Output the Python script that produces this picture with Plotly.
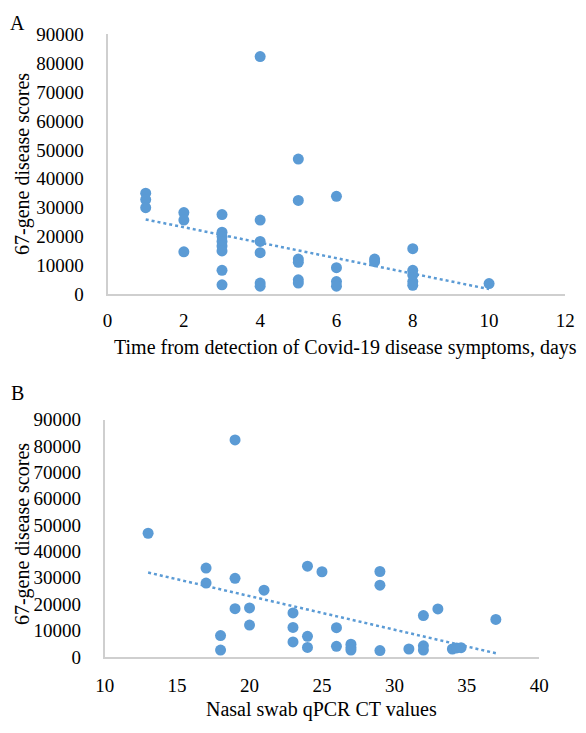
import plotly.graph_objects as go

# Panel A: days from symptom detection vs 67-gene score
days_a = [1, 1, 1, 2, 2, 2, 3, 3, 3, 3, 3, 3, 3, 3,
          4, 4, 4, 4, 4, 4, 5, 5, 5, 5, 5, 5, 6, 6, 6, 6,
          7, 7, 8, 8, 8, 8, 8, 10]
score_a = [35000, 32800, 30000, 28300, 25700, 14700,
           27600, 21500, 20000, 18300, 16700, 15000, 8300, 3300,
           82300, 25700, 18300, 14400, 3900, 2800,
           46800, 32500, 12200, 11100, 5000, 3900,
           33900, 9200, 4400, 2800,
           12200, 11300,
           15800, 8300, 6700, 4400, 3100,
           3700]
trend_a_x = [1, 10]
trend_a_y = [25900, 1800]

# Panel B: nasal swab qPCR CT vs 67-gene score
ct_b = [13, 17, 17, 18, 18, 19, 19, 19, 20, 20, 21, 23, 23, 23,
        24, 24, 24, 25, 26, 26, 27, 27, 27, 29, 29, 29, 31,
        32, 32, 32, 33, 34, 34.3, 34.6, 37]
score_b = [46900, 33700, 28000, 8100, 2600, 82300, 29800, 18300,
           18600, 12100, 25300, 16700, 11200, 5700,
           34400, 7800, 3600, 32300, 11100, 4000,
           4800, 3600, 2600, 32400, 27200, 2400, 3000,
           15700, 4200, 2600, 18200, 3000, 3400, 3500, 14200]
trend_b_x = [13, 37]
trend_b_y = [32000, 1400]

x_ticks_a = [0, 2, 4, 6, 8, 10, 12]
x_ticks_b = [10, 15, 20, 25, 30, 35, 40]
y_ticks = [0, 10000, 20000, 30000, 40000, 50000, 60000, 70000, 80000, 90000]
y_tick_text = [str(v) for v in y_ticks]

BLUE = "#5b9bd5"
FONT = "Liberation Serif"
W, H = 586, 733

fig = go.Figure()
fig.add_trace(go.Scatter(x=days_a, y=score_a, mode="markers",
                         marker=dict(color=BLUE, size=11), xaxis="x", yaxis="y",
                         showlegend=False))
fig.add_trace(go.Scatter(x=trend_a_x, y=trend_a_y, mode="lines",
                         line=dict(color=BLUE, width=2.5, dash="dot"), xaxis="x", yaxis="y",
                         showlegend=False))
fig.add_trace(go.Scatter(x=ct_b, y=score_b, mode="markers",
                         marker=dict(color=BLUE, size=11), xaxis="x2", yaxis="y2",
                         showlegend=False))
fig.add_trace(go.Scatter(x=trend_b_x, y=trend_b_y, mode="lines",
                         line=dict(color=BLUE, width=2.5, dash="dot"), xaxis="x2", yaxis="y2",
                         showlegend=False))

TICKFONT = dict(family=FONT, size=19, color="black")
axis_common = dict(showgrid=False, zeroline=False, showline=True, linecolor="#cfcfcf",
                   linewidth=1.8, ticks="", tickfont=TICKFONT)

def px_x(p):
    return p / W

def px_y(p):
    return 1 - p / H

fig.update_layout(
    width=W, height=H, margin=dict(l=0, r=0, t=0, b=0),
    paper_bgcolor="white", plot_bgcolor="white",
    xaxis=dict(domain=[px_x(101), px_x(575)], range=[0, 12], tickvals=x_ticks_a,
               anchor="y", ticklabelstandoff=8, **axis_common),
    yaxis=dict(domain=[px_y(292.7), px_y(25)], range=[0, 90000], tickvals=y_ticks,
               ticktext=y_tick_text, anchor="x", ticklabelstandoff=18, **axis_common),
    xaxis2=dict(domain=[px_x(98), px_x(548)], range=[10, 40], tickvals=x_ticks_b,
                anchor="y2", ticklabelstandoff=10, **axis_common),
    yaxis2=dict(domain=[px_y(666), px_y(421.7)], range=[0, 90000], tickvals=y_ticks,
                ticktext=y_tick_text, anchor="x2", ticklabelstandoff=18, **axis_common),
)

ann_font = dict(family=FONT, size=20, color="black")
annotations = [
    dict(text="A", x=px_x(8), y=px_y(13), xanchor="center", yanchor="middle"),
    dict(text="B", x=px_x(8), y=px_y(394), xanchor="center", yanchor="middle"),
    dict(text="Time from detection of Covid-19 disease symptoms, days",
         x=px_x(347.5), y=px_y(347), xanchor="center", yanchor="middle"),
    dict(text="Nasal swab qPCR CT values",
         x=px_x(322), y=px_y(720), xanchor="center", yanchor="middle"),
    dict(text="67-gene disease scores", x=px_x(13), y=px_y(159),
         xanchor="center", yanchor="middle", textangle=-90),
    dict(text="67-gene disease scores", x=px_x(13), y=px_y(540),
         xanchor="center", yanchor="middle", textangle=-90),
]
for a in annotations:
    a.update(xref="paper", yref="paper", showarrow=False, font=ann_font)
fig.update_layout(annotations=annotations)

fig.write_html("out.html", config={"displayModeBar": False},
               post_script="document.body.style.margin='0';document.body.style.overflow='hidden';")
